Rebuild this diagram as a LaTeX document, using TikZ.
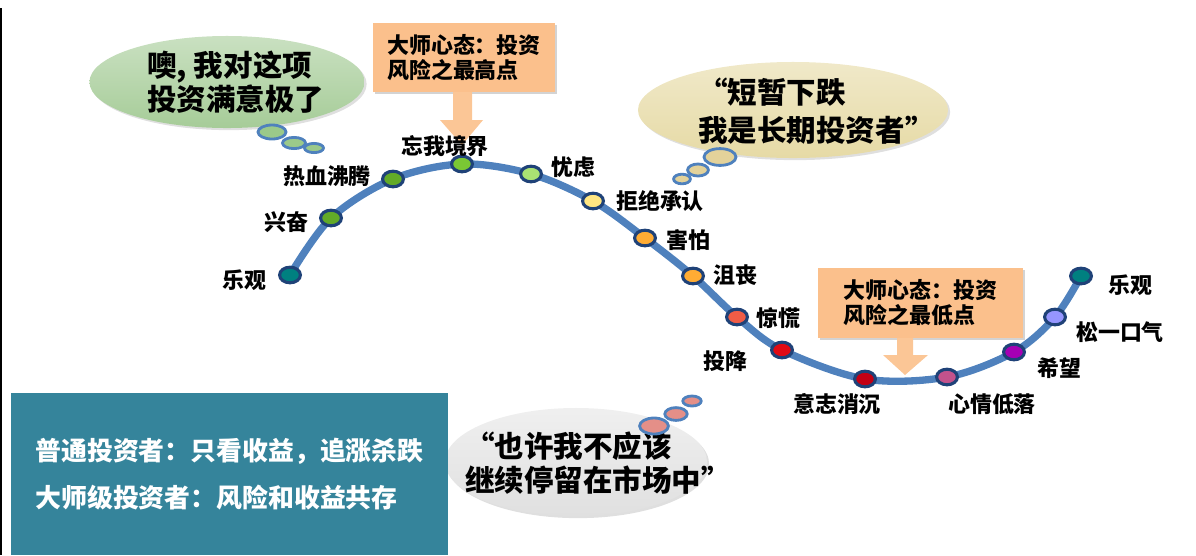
\documentclass[tikz,border=0pt]{standalone}
\usepackage{fontspec}
\setmainfont{Noto Sans CJK SC}
\usepackage{xcolor}
\usepackage{tikz}
\usetikzlibrary{positioning,shapes.geometric,shadows}
\definecolor{curveblue}{RGB}{79,129,189}
\definecolor{dotrim}{RGB}{31,66,120}
\definecolor{boxorange}{RGB}{251,192,140}
\definecolor{arroworange}{RGB}{251,198,150}
\definecolor{boxteal}{RGB}{53,132,155}
\definecolor{thinkgreen}{RGB}{166,204,152}
\definecolor{thinktan}{RGB}{230,218,165}
\definecolor{thinkgray}{RGB}{224,224,224}
\definecolor{puffgreen}{RGB}{155,201,138}
\definecolor{pufftan}{RGB}{227,210,154}
\definecolor{puffred}{RGB}{228,143,136}
% mood colours along the curve
\definecolor{mteal}{RGB}{0,128,128}
\definecolor{mgreen}{RGB}{98,170,40}
\definecolor{mlime}{RGB}{122,200,52}
\definecolor{mpale}{RGB}{170,225,115}
\definecolor{myellow}{RGB}{255,230,130}
\definecolor{morange}{RGB}{255,172,52}
\definecolor{mcoral}{RGB}{240,92,70}
\definecolor{mred}{RGB}{225,10,20}
\definecolor{mdarkred}{RGB}{195,0,20}
\definecolor{mpink}{RGB}{195,82,140}
\definecolor{mpurple}{RGB}{165,0,180}
\definecolor{mlilac}{RGB}{150,150,255}

\begin{document}
\begin{tikzpicture}[x=0.025cm,y=-0.025cm,
  lbl/.style={font=\fontsize{15.6}{18}\selectfont\bfseries,inner sep=0pt},
  dot/.style={ellipse,draw=dotrim,line width=2.2pt,minimum width=0.52cm,
              minimum height=0.39cm,inner sep=0pt},
  callout/.style={fill=boxorange,align=left,inner sep=0pt,
                  font=\fontsize{15.6}{17.7}\selectfont\bfseries,
                  drop shadow={shadow xshift=1.5pt,shadow yshift=-1.5pt,opacity=0.35}},
  cloud/.style={ellipse,inner sep=0pt,
                drop shadow={shadow xshift=1.5pt,shadow yshift=-1.5pt,opacity=0.25}},
  puff/.style={ellipse,draw=curveblue,line width=2pt,inner sep=0pt},
  think/.style={font=\fontsize{21}{20.5}\selectfont\bfseries,align=left,
                inner sep=0pt,anchor=west},
  blockarrow/.style={fill=arroworange}]
\useasboundingbox (0,0) rectangle (1196,555);
\draw[line width=1.2pt] (1,8) -- (1,555);

% thought bubbles
\node[cloud,top color=thinkgreen!60!white,bottom color=thinkgreen,
      minimum width=6.875cm,minimum height=2.3cm] (happy) at (227,82) {};
\node[think] (happytxt) at (147,82) {噢, 我对这项\\投资满意极了};
\node[puff,fill=puffgreen,minimum width=0.7cm,minimum height=0.35cm] (hp1) at (272,132) {};
\node[puff,fill=puffgreen,minimum width=0.575cm,minimum height=0.28cm] (hp2) at (294,143) {};
\node[puff,fill=puffgreen,minimum width=0.475cm,minimum height=0.23cm] (hp3) at (314,148) {};

\node[cloud,top color=thinktan!60!white,bottom color=thinktan,
      minimum width=7.75cm,minimum height=2.4cm] (deny) at (793,110) {};
\node[think,font=\fontsize{21}{27}\selectfont\bfseries] (denytxt) at (698,111)
      {“短暂下跌\\我是长期投资者”};
\node[puff,fill=pufftan,minimum width=0.8cm,minimum height=0.42cm] (dp1) at (720,157) {};
\node[puff,fill=pufftan,minimum width=0.52cm,minimum height=0.3cm] (dp2) at (698,170) {};
\node[puff,fill=pufftan,minimum width=0.42cm,minimum height=0.24cm] (dp3) at (682,179) {};

\node[cloud,top color=thinkgray!50!white,bottom color=thinkgray,
      minimum width=6.55cm,minimum height=2.7cm] (quit) at (576,462) {};
\node[think,font=\fontsize{21}{24}\selectfont\bfseries] (quittxt) at (465,463)
      {“也许我不应该\\继续停留在市场中”};
\node[puff,fill=puffred,minimum width=0.72cm,minimum height=0.4cm] (qp1) at (654,426) {};
\node[puff,fill=puffred,minimum width=0.56cm,minimum height=0.32cm] (qp2) at (676,414) {};
\node[puff,fill=puffred,minimum width=0.46cm,minimum height=0.25cm] (qp3) at (692,401) {};

% summary box
\node[fill=boxteal,minimum width=10.925cm,minimum height=4.05cm,inner sep=0pt,
      text=white,align=left,font=\fontsize{18.4}{33.3}\selectfont\bfseries] (note)
      at (229.5,474) {普通投资者：只看收益，追涨杀跌\\大师级投资者：风险和收益共存};

% master's view
\node[callout,minimum width=4.55cm,minimum height=1.725cm] (peak) at (464,57.5)
      {大师心态：投资\\风险之最高点};
\fill[blockarrow] (453,92) -- (472,92) -- (472,120) -- (483,120) -- (462,145)
      -- (440,120) -- (453,120) -- cycle;
\node[callout,minimum width=5.125cm,minimum height=1.75cm] (trough) at (920.5,303)
      {大师心态：投资\\风险之最低点};
\fill[blockarrow] (897,338) -- (913,338) -- (913,355) -- (928,355) -- (905,375)
      -- (883,355) -- (897,355) -- cycle;

% market cycle curve
\coordinate (p1) at (290,275);
\coordinate (p2) at (331,218);
\coordinate (p3) at (393,179);
\coordinate (p4) at (462,164);
\coordinate (p5) at (531,174);
\coordinate (p6) at (593,201);
\coordinate (p7) at (645,238);
\coordinate (p8) at (693,276);
\coordinate (p9) at (737,317);
\coordinate (p10) at (782,350);
\coordinate (p11) at (865,379);
\coordinate (p12) at (947,377);
\coordinate (p13) at (1014,352);
\coordinate (p14) at (1055,317);
\coordinate (p15) at (1081,276);
\draw[curveblue,line width=5.2pt] plot[smooth,tension=0.55] coordinates
      {(p1) (p2) (p3) (p4) (p5) (p6) (p7) (p8) (p9) (p10) (p11) (p12) (p13) (p14) (p15)};

\node[dot,fill=mteal] (d1) at (p1) {};
\node[dot,fill=mgreen] (d2) at (p2) {};
\node[dot,fill=mgreen] (d3) at (p3) {};
\node[dot,fill=mlime] (d4) at (p4) {};
\node[dot,fill=mpale] (d5) at (p5) {};
\node[dot,fill=myellow] (d6) at (p6) {};
\node[dot,fill=morange] (d7) at (p7) {};
\node[dot,fill=morange] (d8) at (p8) {};
\node[dot,fill=mcoral] (d9) at (p9) {};
\node[dot,fill=mred] (d10) at (p10) {};
\node[dot,fill=mdarkred] (d11) at (p11) {};
\node[dot,fill=mpink] (d12) at (p12) {};
\node[dot,fill=mpurple] (d13) at (p13) {};
\node[dot,fill=mlilac] (d14) at (p14) {};
\node[dot,fill=mteal] (d15) at (p15) {};

% mood labels
\node[lbl] (l1) at (244,280) {乐观};
\node[lbl] (l2) at (286,222) {兴奋};
\node[lbl] (l3) at (327,176) {热血沸腾};
\node[lbl] (l4) at (445,146) {忘我境界};
\node[lbl] (l5) at (573,167) {忧虑};
\node[lbl] (l6) at (660,201) {拒绝承认};
\node[lbl] (l7) at (688,240) {害怕};
\node[lbl] (l8) at (735,275) {沮丧};
\node[lbl] (l9) at (778,318) {惊慌};
\node[lbl] (l10) at (725,361) {投降};
\node[lbl] (l11) at (837,404) {意志消沉};
\node[lbl] (l12) at (992,404) {心情低落};
\node[lbl] (l13) at (1059,368) {希望};
\node[lbl] (l14) at (1120,332) {松一口气};
\node[lbl] (l15) at (1130,285) {乐观};
\end{tikzpicture}
\end{document}
